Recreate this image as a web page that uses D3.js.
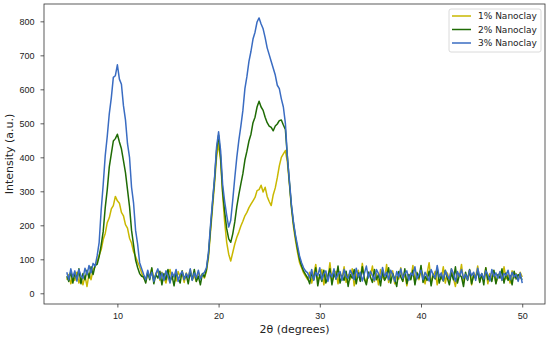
<!DOCTYPE html>
<html>
<head>
<meta charset="utf-8">
<script src="https://cdn.jsdelivr.net/npm/d3@7"></script>
<style>
  body { margin: 0; background: #fff; }
  svg { font-family: "DejaVu Sans", sans-serif; }
</style>
</head>
<body>
<div id="chart"></div>
<script>
// XRD scans, 2theta sampled every 0.2 deg from 5 to 50
const thetaStart = 5, thetaStep = 0.2;
const seriesNames = ["1% Nanoclay", "2% Nanoclay", "3% Nanoclay"];
const seriesColors = ["#c9b800", "#1f6b05", "#3a6cc2"];
const xTicks = [10, 20, 30, 40, 50];
const yTicks = [0, 100, 200, 300, 400, 500, 600, 700, 800];

// 1% nanoclay
const nano1 = [
  40, 55, 28, 50, 38, 62, 30, 45, 25, 52, 20, 58, 40, 70, 78,
  95, 112, 128, 158, 176, 208, 222, 248, 258, 285, 272, 265, 238, 228, 202, 192, 162, 148, 122, 108, 92, 78, 60,
  45, 35, 60, 50, 72, 40, 55, 68, 38, 62, 45, 30, 58, 70, 42, 55, 36, 64, 48, 58, 32, 60, 45, 70, 40, 52, 35, 62, 48, 55, 45,
  65, 105, 180, 250, 320, 400, 440, 390, 290, 210, 150, 115, 95, 120, 145, 165, 180, 198, 212, 228, 238, 252, 262, 272, 282, 302, 305, 318, 298, 312, 285, 270, 258, 290, 310, 340, 375, 400, 410, 420, 385, 320, 250, 195, 155, 120, 90, 75, 60, 50,
  40, 62, 30, 55, 85, 38, 48, 70, 25, 58, 42, 90, 35, 52, 65, 28, 60, 45, 78, 32,
  55, 40, 72, 22, 50, 68, 38, 88, 45, 30, 62, 52, 80, 35, 58, 25, 70, 48, 40, 85,
  32, 56, 66, 28, 50, 42, 75, 36, 60, 22, 55, 45, 82, 30, 62, 40, 70, 52, 28, 58,
  90, 35, 48, 65, 25, 55, 42, 78, 30, 60, 38, 72, 45, 20, 58, 50, 85, 32, 55, 40,
  68, 25, 60, 48, 80, 35, 52, 42, 75, 28, 58, 45, 65, 30, 50, 62, 38, 78, 42, 55,
  30, 66, 45, 58, 40, 62, 48
];

// 2% nanoclay
const nano2 = [
  50, 35, 65, 30, 60, 42, 72, 28, 58, 40, 68, 45, 78, 55, 82,
  85, 108, 142, 182, 252, 305, 372, 410, 448, 455, 468, 445, 425, 390, 355, 305, 255, 185, 142, 98, 76, 58, 50,
  48, 30, 62, 40, 75, 28, 55, 45, 65, 25, 58, 40, 70, 35, 52, 22, 60, 45, 30, 66, 42, 55, 28, 62, 40, 70, 35, 50, 25, 58, 48,
  70, 115, 190, 265, 335, 420, 465, 400, 300, 240, 190, 160, 150, 175, 210, 255, 290, 322, 352, 392, 418, 448, 468, 502, 518, 548, 565, 548, 538, 518, 502, 492, 488, 478, 492, 498, 508, 510, 495, 482, 400, 325, 255, 205, 165, 130, 100, 80, 65, 55,
  45, 28, 62, 40, 75, 22, 55, 35, 68, 30, 50, 72, 25, 58, 42, 80, 30, 52, 38, 65,
  20, 55, 45, 70, 28, 60, 35, 78, 42, 25, 62, 48, 32, 70, 40, 55, 22, 66, 38, 50,
  75, 30, 58, 42, 20, 64, 48, 35, 72, 28, 55, 40, 68, 25, 60, 45, 82, 32, 50, 38,
  65, 22, 56, 42, 74, 30, 52, 36, 68, 45, 25, 60, 40, 78, 30, 55, 48, 20, 62, 38,
  70, 28, 52, 44, 66, 32, 58, 25, 75, 40, 50, 35, 68, 28, 55, 45, 72, 30, 60, 38,
  52, 25, 65, 42, 55, 48, 40
];

// 3% nanoclay
const nano3 = [
  62, 40, 72, 48, 66, 36, 70, 52, 44, 74, 55, 82, 60, 88, 80,
  110, 150, 245, 320, 405, 462, 528, 575, 635, 640, 672, 630, 615, 552, 510, 440, 400, 312, 265, 185, 145, 90, 72,
  55, 40, 68, 45, 62, 35, 58, 72, 42, 60, 38, 66, 50, 30, 62, 48, 70, 35, 55, 64, 40, 58, 46, 72, 38, 60, 45, 68, 42, 55, 62,
  75, 120, 200, 270, 340, 430, 475, 420, 320, 270, 230, 195, 215, 275, 340, 400, 450, 492, 538, 602, 638, 682, 712, 748, 768, 798, 810, 792, 778, 752, 722, 702, 682, 662, 642, 612, 602, 572, 548, 500, 400, 330, 260, 210, 170, 140, 110, 90, 75, 65,
  60, 45, 70, 38, 62, 52, 75, 40, 58, 66, 35, 60, 48, 72, 42, 56, 64, 38, 70, 50,
  44, 68, 55, 40, 74, 48, 62, 36, 58, 80, 45, 65, 52, 38, 70, 58, 42, 76, 50, 62,
  40, 68, 55, 35, 64, 48, 72, 44, 58, 66, 38, 60, 52, 78, 42, 56, 68, 40, 62, 50,
  36, 70, 55, 45, 82, 48, 60, 38, 66, 52, 42, 72, 58, 35, 64, 50, 70, 44, 56, 40,
  68, 52, 62, 38, 74, 48, 58, 42, 66, 55, 36, 70, 50, 60, 44, 64, 38, 58, 52, 68,
  40, 62, 48, 56, 35, 60, 30
];

const width = 550, height = 339;
const margin = {top: 4, right: 5, bottom: 35, left: 44};
const plotW = width - margin.left - margin.right,
      plotH = height - margin.top - margin.bottom;

const svg = d3.select("#chart").append("svg")
  .attr("width", width)
  .attr("height", height);

const g = svg.append("g")
  .attr("transform", "translate(" + margin.left + "," + margin.top + ")");

const xScale = d3.scaleLinear().domain([2.75, 52.25]).range([0, plotW]);
const yScale = d3.scaleLinear().domain([-31.5, 851]).range([plotH, 0]);

g.append("clipPath").attr("id", "clip")
  .append("rect").attr("width", plotW).attr("height", plotH);

const allSeries = [nano1, nano2, nano3];
const line = d3.line()
  .x((d, i) => xScale(thetaStart + i * thetaStep))
  .y(d => yScale(d));

allSeries.forEach(function (vals, k) {
  g.append("path")
    .datum(vals)
    .attr("clip-path", "url(#clip)")
    .attr("fill", "none")
    .attr("stroke", seriesColors[k])
    .attr("stroke-width", 1.5)
    .attr("stroke-linejoin", "round")
    .attr("d", line);
});

// axes
const xAxis = g.append("g")
  .attr("transform", "translate(0," + plotH + ")")
  .call(d3.axisBottom(xScale).tickValues(xTicks).tickSize(3.5).tickPadding(5));
const yAxis = g.append("g")
  .call(d3.axisLeft(yScale).tickValues(yTicks).tickSize(3.5).tickPadding(6));
[xAxis, yAxis].forEach(function (ax) {
  ax.select(".domain").remove();
  ax.selectAll("line").attr("stroke", "#333").attr("stroke-width", 0.8);
  ax.selectAll("text").attr("fill", "#222").style("font-size", "9px");
});

// frame
g.append("rect")
  .attr("width", plotW).attr("height", plotH)
  .attr("fill", "none").attr("stroke", "#333").attr("stroke-width", 0.8);

// axis labels
svg.append("text")
  .attr("x", margin.left + plotW / 2)
  .attr("y", 333)
  .attr("text-anchor", "middle")
  .style("font-size", "11px")
  .attr("fill", "#222")
  .text("2θ (degrees)");
svg.append("text")
  .attr("transform", "translate(13," + (margin.top + plotH / 2) + ") rotate(-90)")
  .attr("text-anchor", "middle")
  .style("font-size", "11px")
  .attr("fill", "#222")
  .text("Intensity (a.u.)");

// legend
const legend = svg.append("g").attr("transform", "translate(449,9)");
legend.append("rect")
  .attr("width", 92).attr("height", 43).attr("rx", 2)
  .attr("fill", "#fff").attr("fill-opacity", 0.8)
  .attr("stroke", "#d0d0d0").attr("stroke-width", 0.8);
seriesNames.forEach(function (name, k) {
  const ly = 7 + k * 13.5;
  legend.append("line")
    .attr("x1", 3).attr("x2", 22).attr("y1", ly).attr("y2", ly)
    .attr("stroke", seriesColors[k]).attr("stroke-width", 1.5);
  legend.append("text")
    .attr("x", 29).attr("y", ly + 3)
    .style("font-size", "9px")
    .attr("fill", "#222")
    .text(name);
});
</script>
</body>
</html>
